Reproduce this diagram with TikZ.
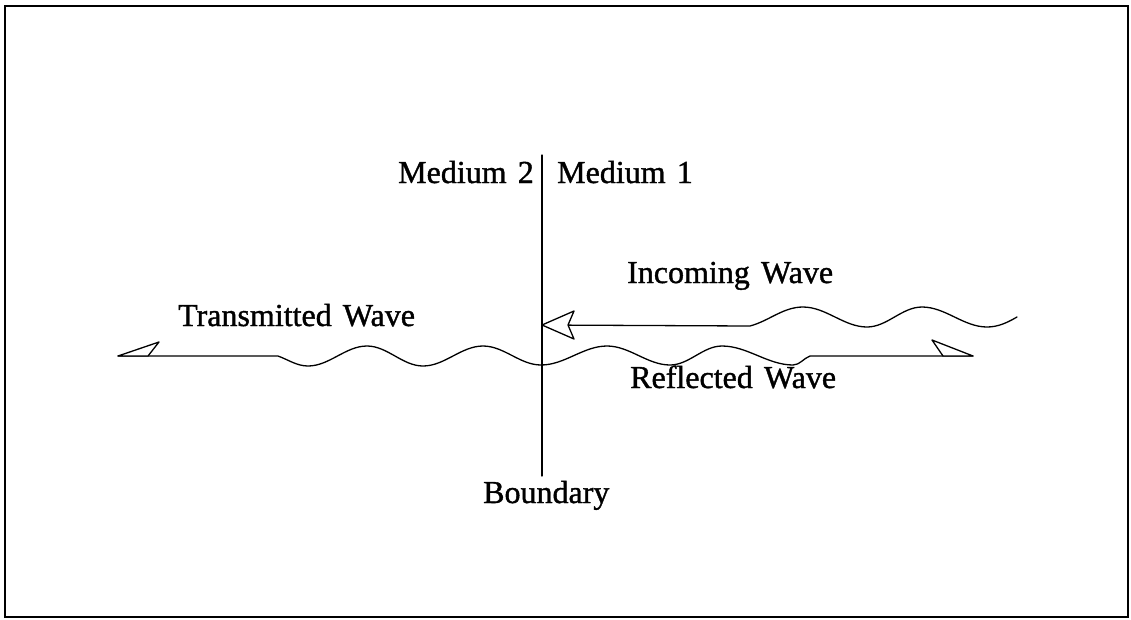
\documentclass[tikz,border=0pt]{standalone}
\usepackage{fontspec}
\setmainfont{Liberation Serif}[FakeBold=1.2,WordSpace=1.4]
\begin{document}
\begin{tikzpicture}[x=1pt,y=-1pt,
  lbl/.style={anchor=base west,inner sep=0pt,font=\fontsize{32}{36}\selectfont},
  ln/.style={line width=1.3pt,line join=round,line cap=round},
  wv/.style={out=0,in=180,looseness=0.88},
  head/.style={ln,fill=white}]
\useasboundingbox (0,0) rectangle (1131,619);
\draw[line width=1.6pt] (5,6) rectangle (1128,617);
% boundary
\coordinate (btop) at (542,155);
\coordinate (bbot) at (542,476);
\draw[ln] (btop) -- (bbot);
% labels
\node[lbl] (m2) at (398,183) {Medium 2};
\node[lbl] (m1) at (557,183) {Medium 1};
\node[lbl] (inc) at (627,283) {Incoming Wave};
\node[lbl] (tra) at (178,326) {Transmitted Wave};
\node[lbl] (ref) at (630,388) {Reflected Wave};
\node[lbl] (bnd) at (483,503) {Boundary};
% incoming wave
\coordinate (inTip) at (542,325);
\coordinate (inKink) at (750,326);
\coordinate (inEnd) at (1017,317);
\draw[ln] (inTip) -- (inKink) to[out=15,in=180,looseness=0.9] (803,307) to[wv] (867,327)
  to[wv] (922,307) to[wv] (987,327) to[out=0,in=210,looseness=0.9] (inEnd);
\draw[head] (inTip) -- (574,311) -- (568,325) -- (574,339) -- cycle;
% transmitted + reflected wave
\coordinate (tTip) at (118,356);
\coordinate (rTip) at (973,356);
\draw[ln] (tTip) -- (278,356) to[out=-20,in=180,looseness=0.9] (308,366) to[wv] (367,346)
  to[wv] (423,366) to[wv] (483,346) to[wv] (541,365) to[wv] (607,346)
  to[wv] (670,365) to[wv] (722,346) to[wv] (793,365) to[out=0,in=200,looseness=0.9] (810,356)
  -- (rTip);
\draw[head] (tTip) -- (159,342) -- (148,356) -- cycle;
\draw[head] (rTip) -- (932,340) -- (943,356) -- cycle;
\end{tikzpicture}
\end{document}
